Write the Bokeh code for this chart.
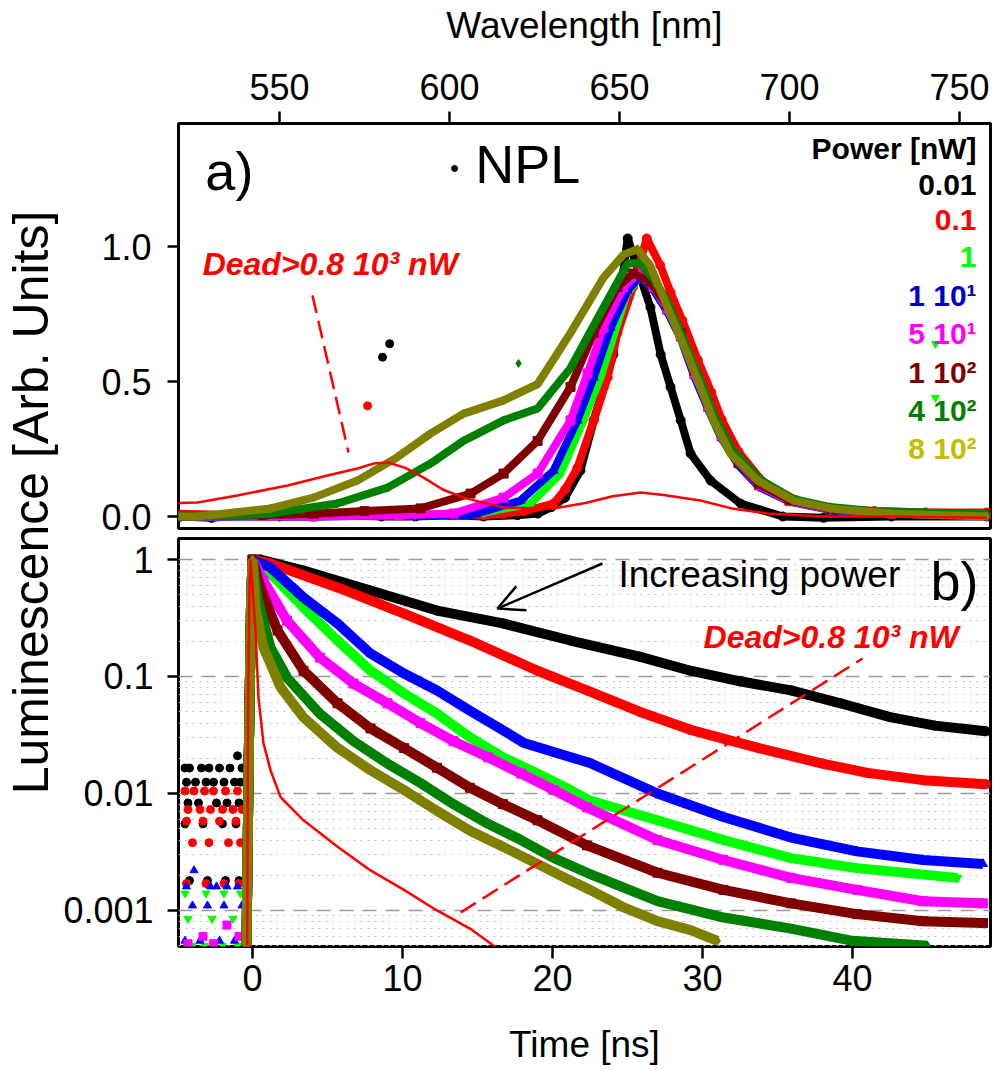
import math
from bokeh.plotting import figure
from bokeh.layouts import row, column
from bokeh.models import Range1d, FixedTicker, Label, Arrow, OpenHead, PrintfTickFormatter
from bokeh.embed import file_html
from bokeh.resources import INLINE

FONT = "Liberation Sans"

# ---------------- series meta ----------------
power_labels = ["0.01", "0.1", "1", "1 10\u00b9", "5 10\u00b9", "1 10\u00b2", "4 10\u00b2", "8 10\u00b2"]
series_colors = ["#000000", "#FF0000", "#00FF00", "#0000FF", "#FF00FF", "#800000", "#008000", "#808000"]
label_colors = ["#000000", "#FF0000", "#00FF00", "#0000CC", "#FF00FF", "#800000", "#008000", "#BFBF00"]
series_markers = ["circle", "circle", "inverted_triangle", "triangle", "square", "square", "diamond", "diamond"]
dead_color = "#FF0000"
dead_text = "Dead>0.8 10\u00b3 nW"

# ---------------- panel a) spectra (wavelength nm, intensity) ----------------
wl_black = [520, 530, 540, 550, 560, 570, 580, 590, 600, 610, 620, 626, 630, 634, 638.5, 642.4, 645.3, 648.2, 650.5,
            652.4, 654.5, 656.2, 659.1, 662.1, 665, 668, 670.9, 676.8, 685.6, 698, 710, 730, 758]
I_black = [0.0, -0.005, 0.005, 0.0, 0.0, 0.005, 0.0, 0.0, 0.005, 0.0, 0.005, 0.011, 0.035, 0.07, 0.17, 0.356, 0.48,
           0.60, 0.85, 1.03, 0.95, 0.885, 0.774, 0.60, 0.48, 0.356, 0.233, 0.133, 0.048, 0.0, -0.005, 0.0, 0.0]

wl_red = [520, 540, 560, 580, 600, 610, 615.9, 622, 630.6, 634, 637.6, 642.4, 646.5, 649.4, 654, 658, 662, 665,
          668.5, 673, 677, 680, 685, 692, 702, 712, 725, 740, 758]
I_red = [0.01, 0.005, 0.01, 0.005, 0.005, 0.005, 0.01, 0.02, 0.048, 0.1, 0.18, 0.356, 0.515, 0.68, 0.85, 1.03, 0.93,
         0.83, 0.726, 0.58, 0.46, 0.36, 0.24, 0.13, 0.06, 0.03, 0.02, 0.015, 0.015]

wl_green = [520, 560, 590, 610, 623.8, 632.6, 639.4, 644.4, 648, 652, 656, 660, 664, 668, 672, 676, 680, 685, 691,
            700, 712, 730, 758]
I_green = [0.0, 0.0, 0.005, 0.015, 0.048, 0.159, 0.356, 0.515, 0.66, 0.82, 0.89, 0.84, 0.76, 0.66, 0.52, 0.40, 0.29,
           0.19, 0.11, 0.055, 0.025, 0.01, 0.005]

wl_blue = [520, 560, 590, 606.2, 620.9, 630.6, 637.6, 642.4, 647.4, 652.4, 656, 660, 664, 668, 672, 676, 680, 685,
           691, 700, 712, 730, 758]
I_blue = [0.0, 0.0, 0.005, 0.004, 0.059, 0.17, 0.356, 0.515, 0.70, 0.837, 0.89, 0.84, 0.76, 0.66, 0.52, 0.40, 0.29,
          0.19, 0.11, 0.055, 0.025, 0.01, 0.005]

wl_magenta = [520, 560, 585, 601.2, 615.9, 625.9, 635.6, 640.6, 645.3, 651.2, 655.5, 660, 664, 668, 672, 676, 680,
              685, 691, 700, 712, 730, 758]
I_magenta = [0.0, 0.0, 0.005, 0.011, 0.07, 0.159, 0.356, 0.53, 0.70, 0.85, 0.90, 0.85, 0.77, 0.67, 0.53, 0.41, 0.30,
             0.20, 0.115, 0.057, 0.026, 0.01, 0.005]

wl_darkred = [520, 545, 560, 575, 591.5, 606.2, 615.9, 625.9, 635.6, 642.4, 649.4, 654, 659, 664, 668, 672, 676,
              680, 685, 691, 700, 712, 730, 758]
I_darkred = [0.0, 0.005, 0.01, 0.02, 0.03, 0.085, 0.159, 0.28, 0.48, 0.68, 0.85, 0.90, 0.87, 0.78, 0.68, 0.54, 0.42,
             0.31, 0.20, 0.12, 0.06, 0.028, 0.012, 0.005]

wl_darkgreen = [520, 535, 547.4, 567, 581.8, 594.4, 604.1, 615.9, 625.9, 635.6, 645.3, 652.4, 656, 660, 664, 670,
                674, 678, 683, 691, 701, 712, 725, 740, 758]
I_darkgreen = [0.0, 0.003, 0.011, 0.048, 0.107, 0.196, 0.28, 0.356, 0.40, 0.55, 0.774, 0.937, 0.94, 0.88, 0.80,
               0.62, 0.50, 0.37, 0.25, 0.14, 0.065, 0.035, 0.02, 0.015, 0.01]

wl_olive = [520, 525.9, 547.4, 560, 572.9, 584.7, 594.4, 604, 615.9, 625.9, 635.6, 645.3, 651.2, 655.3, 659, 664.1,
            670, 673.8, 677.6, 682.6, 690.6, 701.2, 712, 730, 758]
I_olive = [0.0, 0.0, 0.03, 0.07, 0.133, 0.22, 0.307, 0.38, 0.43, 0.49, 0.68, 0.885, 0.97, 0.99, 0.93, 0.774, 0.60,
           0.48, 0.356, 0.233, 0.133, 0.059, 0.03, 0.01, 0.0]

wl_dead = [520, 525.9, 537.6, 552.4, 564.1, 572.9, 577.6, 582, 587, 592.4, 598, 604.1, 615.9, 630.6, 640, 648, 656.2,
           663, 673.8, 683, 693.5, 710, 730, 758]
I_dead = [0.05, 0.052, 0.078, 0.115, 0.152, 0.178, 0.196, 0.20, 0.18, 0.144, 0.10, 0.07, 0.033, 0.03, 0.05, 0.075,
          0.089, 0.08, 0.059, 0.03, 0.011, 0.0, 0.0, -0.005]

# isolated outlier points of panel a) (series index, wavelength, intensity)
outlier_series = [0, 0, 1, 6, 2, 2]
outlier_wl = [582.4, 580.3, 575.9, 620.3, 742.9, 742.9]
outlier_I = [0.64, 0.59, 0.41, 0.567, 0.64, 0.44]

spec_wl = [wl_black, wl_red, wl_green, wl_blue, wl_magenta, wl_darkred, wl_darkgreen, wl_olive]
spec_I = [I_black, I_red, I_green, I_blue, I_magenta, I_darkred, I_darkgreen, I_olive]

# ---------------- panel b) decays (time ns, normalised luminescence) ----------------
t_black = [-0.4, -0.25, -0.1, 0.0, 0.53, 3.4, 7.87, 12.3, 16.7, 21.2, 25.8, 29.2, 32.5, 35.9, 39.2, 42.5, 45.5, 48.9]
y_black = [0.0005, 0.02, 0.4, 1.0, 1.0, 0.805, 0.543, 0.366, 0.284, 0.203, 0.148, 0.112, 0.091, 0.076, 0.059, 0.045,
           0.038, 0.034]

t_red = [-0.4, -0.25, -0.1, 0.0, 1.2, 5.67, 10.1, 14.5, 19.0, 22.3, 25.8, 29.2, 33.7, 38.0, 41.0, 44.7, 48.9]
y_red = [0.0005, 0.02, 0.4, 1.0, 0.925, 0.577, 0.345, 0.203, 0.112, 0.076, 0.05, 0.035, 0.0245, 0.018, 0.015, 0.013,
         0.012]

t_green = [-0.4, -0.25, -0.1, 0.0, 1.2, 3.4, 5.67, 7.87, 10.1, 12.3, 14.5, 16.7, 19.0, 21.2, 22.5, 27.0, 31.4, 35.9,
           40.3, 47.0]
y_green = [0.0005, 0.02, 0.4, 1.0, 0.76, 0.39, 0.203, 0.112, 0.0716, 0.0483, 0.0302, 0.0204, 0.0148, 0.0107, 0.0087,
           0.0059, 0.004, 0.0028, 0.0023, 0.0019]

t_blue = [-0.4, -0.25, -0.1, 0.0, 1.2, 3.4, 5.67, 7.87, 10.1, 12.3, 14.5, 16.7, 18.1, 22.5, 27.0, 31.4, 35.9, 40.3,
          44.7, 48.7]
y_blue = [0.0005, 0.02, 0.4, 1.0, 0.855, 0.473, 0.284, 0.157, 0.106, 0.076, 0.051, 0.0347, 0.027, 0.0182, 0.01,
          0.0063, 0.0042, 0.0032, 0.0027, 0.0025]

t_magenta = [-0.4, -0.25, -0.1, 0.0, 0.73, 2.3, 4.5, 6.73, 9.0, 11.2, 13.4, 15.7, 17.9, 20.1, 22.3, 27.0, 31.4, 35.9,
             40.3, 44.7, 48.7]
y_magenta = [0.0005, 0.02, 0.4, 1.0, 0.66, 0.30, 0.145, 0.087, 0.059, 0.040, 0.028, 0.0204, 0.0148, 0.0107, 0.0076,
             0.004, 0.0027, 0.0019, 0.0015, 0.0012, 0.00115]

t_darkred = [-0.4, -0.25, -0.1, 0.0, 0.53, 1.67, 3.4, 5.67, 7.87, 10.1, 12.3, 14.5, 16.7, 19.0, 22.3, 27.0, 31.4,
             35.9, 40.3, 44.7, 48.7]
y_darkred = [0.0005, 0.02, 0.4, 1.0, 0.575, 0.247, 0.112, 0.059, 0.036, 0.0245, 0.0166, 0.0112, 0.0081, 0.0059,
             0.0036, 0.0021, 0.0015, 0.00115, 0.00093, 0.00081, 0.00078]

t_darkgreen = [-0.4, -0.25, -0.1, 0.0, 0.33, 1.2, 2.3, 4.5, 6.73, 9.0, 11.2, 13.4, 15.7, 17.9, 20.1, 22.3, 27.0,
               31.4, 35.9, 40.0, 45.0]
y_darkgreen = [0.0005, 0.02, 0.4, 1.0, 0.473, 0.177, 0.098, 0.048, 0.028, 0.018, 0.0123, 0.0081, 0.0055, 0.004,
               0.0028, 0.0021, 0.0012, 0.00087, 0.0007, 0.00055, 0.0005]

t_olive = [-0.4, -0.25, -0.1, 0.0, 0.2, 0.73, 1.87, 3.4, 5.67, 7.87, 10.1, 12.3, 14.5, 16.7, 19.0, 21.2, 22.5, 24.7,
           27.0, 29.2, 31.0]
y_olive = [0.0005, 0.02, 0.4, 1.0, 0.39, 0.177, 0.081, 0.0447, 0.0245, 0.0158, 0.0107, 0.0071, 0.0048, 0.0035,
           0.0025, 0.0018, 0.0015, 0.00107, 0.00081, 0.00068, 0.00055]

t_dead = [-0.35, -0.3, -0.2, -0.13, 0.2, 0.4, 0.73, 1.2, 1.87, 3.4, 5.67, 7.87, 10.1, 12.3, 14.5, 15.9, 17.0]
y_dead = [0.0005, 0.05, 0.6, 1.0, 0.247, 0.066, 0.027, 0.0158, 0.0093, 0.0059, 0.0035, 0.0022, 0.0015, 0.001,
          0.0007, 0.00052, 0.0004]

# background counts before the pulse (t < 0)
bg_t_black = [-4.5, -4.2, -3.4, -2.9, -2.2, -1.5, -1.0, -0.7, -4.4, -3.8, -3.1, -2.6, -1.9, -1.2, -0.8, -4.3, -3.6,
              -2.4, -1.7, -0.9, -4.5, -3.3, -2.0, -1.1, -4.2, -3.0, -1.8, -0.9]
bg_y_black = [0.0165, 0.0165, 0.0165, 0.0165, 0.0165, 0.0165, 0.021, 0.0165, 0.0125, 0.0125, 0.0125, 0.0125, 0.0125,
              0.0125, 0.0125, 0.0083, 0.0083, 0.0083, 0.0083, 0.0083, 0.0055, 0.0055, 0.0055, 0.0055, 0.0018,
              0.0018, 0.0018, 0.0018]
bg_t_red = [-4.5, -3.9, -3.2, -2.6, -1.8, -1.0, -4.3, -3.5, -2.8, -2.0, -1.3, -0.7, -4.4, -3.3, -2.2, -1.1, -4.0,
            -2.9, -1.6, -0.8, -4.4, -3.1, -1.9, -0.9]
bg_y_red = [0.0105, 0.0105, 0.0105, 0.0105, 0.0105, 0.0105, 0.0073, 0.0073, 0.0073, 0.0073, 0.0073, 0.0073, 0.0058,
            0.0058, 0.0058, 0.0058, 0.0038, 0.0038, 0.0038, 0.0038, 0.0017, 0.0017, 0.0017, 0.0017]
bg_t_blue = [-3.9, -2.8, -1.7, -4.4, -2.4, -1.0, -4.0, -3.0, -1.9, -0.7, -4.5, -3.5, -2.2, -1.2]
bg_y_blue = [0.0022, 0.0016, 0.0016, 0.0016, 0.0016, 0.0016, 0.0011, 0.0011, 0.0011, 0.0011, 0.00055, 0.00055,
             0.00055, 0.00055]
bg_t_green = [-4.5, -3.1, -1.9, -0.8, -4.3, -2.7, -1.3, -4.0, -3.2, -2.0, -1.0]
bg_y_green = [0.0014, 0.0014, 0.0014, 0.0014, 0.00085, 0.00085, 0.00085, 0.0005, 0.0005, 0.0005, 0.0005]
bg_t_magenta = [-4.3, -3.3, -2.6, -1.7, -0.9]
bg_y_magenta = [0.00052, 0.0006, 0.00052, 0.00075, 0.0006]

decay_t = [t_black, t_red, t_green, t_blue, t_magenta, t_darkred, t_darkgreen, t_olive]
decay_y = [y_black, y_red, y_green, y_blue, y_magenta, y_darkred, y_darkgreen, y_olive]
bg_t = [bg_t_black, bg_t_red, bg_t_green, bg_t_blue, bg_t_magenta]
bg_y = [bg_y_black, bg_y_red, bg_y_green, bg_y_blue, bg_y_magenta]

wl_ticks = [550, 600, 650, 700, 750]
int_ticks = [0.0, 0.5, 1.0]
time_ticks = [0, 10, 20, 30, 40]
lum_ticks = [0.001, 0.01, 0.1, 1.0]


def style_axis(ax, ticks, fmt):
    ax.ticker = FixedTicker(ticks=ticks)
    ax.formatter = PrintfTickFormatter(format=fmt)
    ax.major_label_text_font = FONT
    ax.major_label_text_font_size = "36px"
    ax.major_label_text_color = "black"
    ax.axis_line_color = None
    ax.major_tick_line_color = "black"
    ax.major_tick_line_width = 2.5
    ax.major_tick_in = 0
    ax.major_tick_out = 11
    ax.minor_tick_line_color = None
    ax.axis_label_text_font = FONT
    ax.axis_label_text_font_style = "normal"
    ax.axis_label_text_font_size = "37px"
    ax.axis_label_text_color = "black"


def add_label(p, x, y, text, size, color="black", style="normal", align="left"):
    p.add_layout(Label(x=x, y=y, text=text, text_font=FONT, text_font_size=size, text_color=color,
                       text_font_style=style, text_align=align, text_baseline="middle"))


LAB_W = 58

# ---------------- top panel ----------------
top = figure(width=936, height=537, x_range=Range1d(520.3, 759.1), y_range=Range1d(-0.0444, 1.4556),
             x_axis_location="above", output_backend="svg", toolbar_location=None,
             min_border_left=120, min_border_right=4, min_border_top=123, min_border_bottom=9)
top.grid.visible = False
top.outline_line_color = "black"
top.outline_line_width = 3
style_axis(top.xaxis[0], wl_ticks, "%d")
style_axis(top.yaxis[0], int_ticks, "%.1f")
top.xaxis[0].axis_label = "Wavelength [nm]"
top.xaxis[0].major_label_standoff = 12
top.xaxis[0].axis_label_standoff = 25
top.xaxis[0].major_tick_out = 12
top.yaxis[0].major_label_standoff = 16

for wl, inten, c, m in zip(spec_wl, spec_I, series_colors, series_markers):
    top.line(wl, inten, line_color=c, line_width=8)
    top.scatter(wl, inten, marker=m, size=9, fill_color=c, line_color=c)
for s, wl, inten in zip(outlier_series, outlier_wl, outlier_I):
    top.scatter([wl], [inten], marker=series_markers[s], size=8, fill_color=series_colors[s],
                line_color=series_colors[s])
top.line(wl_dead, I_dead, line_color=dead_color, line_width=2.5)
top.line([559.7, 570.3], [0.819, 0.237], line_color=dead_color, line_width=2.5, line_dash="18 8")

add_label(top, 528.2, 1.278, "a)", "54px")
top.scatter([601.5], [1.289], marker="circle", size=6, fill_color="black", line_color="black")
add_label(top, 607.6, 1.304, "NPL", "54px")
add_label(top, 527.4, 0.935, dead_text, "32px", color=dead_color, style="bold italic")

legend_x = 755.0
legend_y = [1.363, 1.228, 1.098, 0.961, 0.820, 0.679, 0.535, 0.394, 0.253]
add_label(top, legend_x, legend_y[0], "Power [nW]", "30px", style="bold", align="right")
for lab, col, yy in zip(power_labels, label_colors, legend_y[1:]):
    add_label(top, legend_x, yy, lab, "30px", color=col, style="bold", align="right")

# ---------------- bottom panel ----------------
bottom = figure(width=936, height=531, x_range=Range1d(-4.933, 49.2), y_range=Range1d(0.000492, 1.512),
                y_axis_type="log", output_backend="svg", toolbar_location=None,
                min_border_left=120, min_border_right=4, min_border_top=1, min_border_bottom=122)
bottom.outline_line_color = "black"
bottom.outline_line_width = 3
bottom.xgrid.visible = False
minor_lum = [k * d for d in [0.0001, 0.001, 0.01, 0.1] for k in range(2, 10)]
bottom.ygrid.ticker = FixedTicker(ticks=lum_ticks, minor_ticks=minor_lum)
bottom.ygrid.grid_line_color = "#9a9a9a"
bottom.ygrid.grid_line_width = 1.5
bottom.ygrid.grid_line_dash = "14 9"
bottom.ygrid.minor_grid_line_color = "#c4c4c4"
bottom.ygrid.minor_grid_line_width = 1
bottom.ygrid.minor_grid_line_dash = "2 5"
style_axis(bottom.xaxis[0], time_ticks, "%d")
style_axis(bottom.yaxis[0], lum_ticks, "%g")
bottom.xaxis[0].axis_label = "Time [ns]"
bottom.xaxis[0].major_tick_out = 12
bottom.xaxis[0].major_label_standoff = 6
bottom.xaxis[0].axis_label_standoff = 30
bottom.yaxis[0].major_label_standoff = 14

for bt, by, c, m in zip(bg_t, bg_y, series_colors, series_markers):
    bottom.scatter(bt, by, marker=m, size=8, fill_color=c, line_color=c)
for tt, yy, c, m in zip(decay_t, decay_y, series_colors, series_markers):
    bottom.line(tt, yy, line_color=c, line_width=10)
    bottom.scatter(tt, yy, marker=m, size=9, fill_color=c, line_color=c)
bottom.line(t_dead, y_dead, line_color=dead_color, line_width=2.5)
bottom.line([13.87, 40.67], [0.00096, 0.1426], line_color=dead_color, line_width=2.5, line_dash="18 8")

bottom.add_layout(Arrow(x_start=23.33, y_start=0.924, x_end=16.33, y_end=0.381, line_color="black",
                        line_width=2.5, end=OpenHead(size=26, line_width=2.5, line_color="black")))
add_label(bottom, 24.4, 0.751, "Increasing power", "37px")
add_label(bottom, 45.2, 0.66, "b)", "54px")
add_label(bottom, 30.07, 0.218, dead_text, "32px", color=dead_color, style="bold italic")

# ---------------- shared y label ----------------
lab_fig = figure(width=LAB_W, height=1068, x_range=Range1d(0, 1), y_range=Range1d(0, 1),
                 x_axis_location=None, y_axis_location=None, output_backend="svg", toolbar_location=None,
                 min_border=0)
lab_fig.grid.visible = False
lab_fig.outline_line_color = None
lab_fig.add_layout(Label(x=30.0 / LAB_W, y=0.53, text="Luminescence [Arb. Units]", angle=math.pi / 2,
                         text_font=FONT, text_font_size="50px", text_align="center",
                         text_baseline="middle", text_color="black"))

layout = row(lab_fig, column(top, bottom))
open("out.html", "w").write(file_html(layout, INLINE))
